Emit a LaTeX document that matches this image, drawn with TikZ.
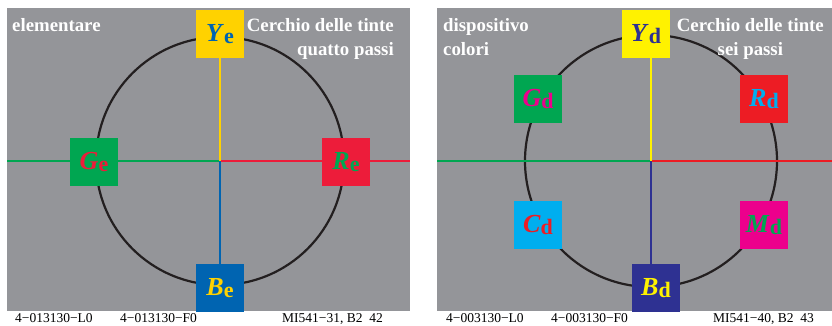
\documentclass[tikz,border=0pt]{standalone}
\usepackage{fontspec}
\setmainfont{Liberation Serif}
\definecolor{panel}{RGB}{148,149,153}
\definecolor{ringblack}{RGB}{35,31,32}
\definecolor{yelE}{RGB}{255,210,0}
\definecolor{bluE}{RGB}{0,100,177}
\definecolor{grnE}{RGB}{0,166,81}
\definecolor{redE}{RGB}{237,28,58}
\definecolor{yelD}{RGB}{255,242,0}
\definecolor{bluD}{RGB}{46,49,146}
\definecolor{grnD}{RGB}{0,166,81}
\definecolor{redD}{RGB}{237,28,36}
\definecolor{cynD}{RGB}{0,174,239}
\definecolor{magD}{RGB}{236,0,140}
\newcommand{\tint}[2]{\textit{#1}\raisebox{-2.5pt}{\fontsize{22}{22}\selectfont #2}}

\begin{document}
\begin{tikzpicture}[x=1pt, y=-1pt, hue/.style={minimum size=48pt, inner sep=0pt, font=\fontsize{26}{26}\selectfont\bfseries}, axis/.style={line width=2.5pt}, wheel/.style={line width=2.2pt, draw=ringblack}, title/.style={text=white, inner sep=0pt, font=\fontsize{18.8}{24}\selectfont\bfseries}, code/.style={inner sep=0pt, anchor=base west, font=\fontsize{13.5}{14}\selectfont}]
\useasboundingbox (0,0) rectangle (832,326);
\fill[panel] (7,8) rectangle (410,311);
\fill[panel] (437,8) rectangle (832,311);

\coordinate (cE) at (220,161);
\coordinate (wE) at (7,161);
\coordinate (eE) at (410,161);
\draw[wheel] (cE) circle[radius=124pt];
\draw[axis, grnE] (wE) -- (cE);
\draw[axis, redE] (cE) -- (eE);
\node[hue, fill=yelE, text=bluE] (Ye) at (220,34) {\tint{Y}{e}};
\node[hue, fill=grnE, text=redE] (Ge) at (94,162) {\tint{G}{e}};
\node[hue, fill=redE, text=grnE] (Re) at (346,162) {\tint{R}{e}};
\node[hue, fill=bluE, text=yelE] (Be) at (220,288) {\tint{B}{e}};
\draw[axis, yelE] (Ye) -- (cE);
\draw[axis, bluE] (cE) -- (Be);
\node[title, anchor=north west, align=left] (elem) at (12,18) {elementare};
\node[title, anchor=north east, align=right] (stepsE) at (394,18) {Cerchio delle tinte\\quatto passi};
\node[code] (lE) at (15,322) {4−013130−L0};
\node[code] (fE) at (120,322) {4−013130−F0};
\node[code] (mE) at (282,322) {MI541−31, B2\ \ 42};

\coordinate (cD) at (651,161);
\coordinate (wD) at (437,161);
\coordinate (eD) at (832,161);
\draw[wheel] (cD) circle[radius=126pt];
\draw[axis, grnD] (wD) -- (cD);
\draw[axis, redD] (cD) -- (eD);
\node[hue, fill=yelD, text=bluD] (Yd) at (646,34) {\tint{Y}{d}};
\node[hue, fill=grnD, text=magD] (Gd) at (538,99) {\tint{G}{d}};
\node[hue, fill=redD, text=cynD] (Rd) at (764,99) {\tint{R}{d}};
\node[hue, fill=cynD, text=redD] (Cd) at (538,225) {\tint{C}{d}};
\node[hue, fill=magD, text=grnD] (Md) at (764,225) {\tint{M}{d}};
\node[hue, fill=bluD, text=yelD] (Bd) at (656,288) {\tint{B}{d}};
\draw[axis, yelD] (Yd.south -| cD) -- (cD);
\draw[axis, bluD] (cD) -- (Bd.north -| cD);
\node[title, anchor=north west, align=left] (disp) at (443,18) {dispositivo\\colori};
\node[title, anchor=north east, align=center] (stepsD) at (824,18) {Cerchio delle tinte\\sei passi};
\node[code] (lD) at (446,322) {4−003130−L0};
\node[code] (fD) at (551,322) {4−003130−F0};
\node[code] (mD) at (713,322) {MI541−40, B2\ \ 43};
\end{tikzpicture}
\end{document}
